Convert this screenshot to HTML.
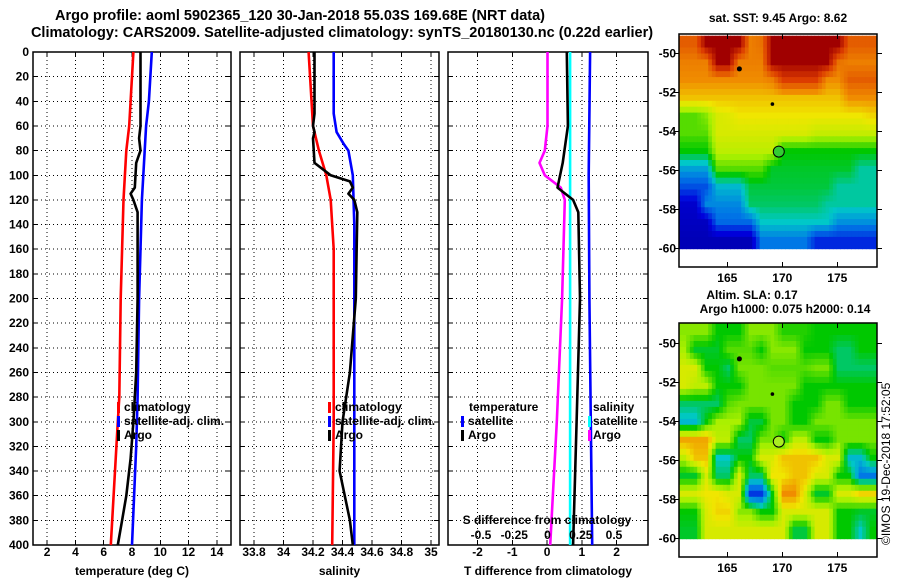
<!DOCTYPE html>
<html><head><meta charset="utf-8"><style>
body{margin:0;background:#fff}
svg{display:block;font-family:"Liberation Sans",sans-serif}
.t{font-weight:bold;font-size:12px}
.h{font-weight:bold;font-size:14.5px}
</style></head><body>
<svg id="s" width="900" height="580" viewBox="0 0 900 580">
<text class="h" x="300" y="20" text-anchor="middle">Argo profile: aoml 5902365_120 30-Jan-2018 55.03S 169.68E (NRT data)</text>
<text class="h" x="342" y="37" text-anchor="middle">Climatology: CARS2009. Satellite-adjusted climatology: synTS_20180130.nc (0.22d earlier)</text>
<text class="t" x="778" y="22" text-anchor="middle">sat. SST: 9.45 Argo: 8.62</text>
<text class="t" x="752" y="299" text-anchor="middle">Altim. SLA: 0.17</text>
<text class="t" x="785" y="313" text-anchor="middle">Argo h1000: 0.075 h2000: 0.14</text>
<text x="890" y="545" font-size="12" transform="rotate(-90 890 545)">©IMOS 19-Dec-2018 17:52:05</text>
</svg>
<script>
// ---- data ----
const depthTicks=[0,20,40,60,80,100,120,140,160,180,200,220,240,260,280,300,320,340,360,380,400];
const tempTicks=[2,4,6,8,10,12,14];
const salTicks=[33.8,34,34.2,34.4,34.6,34.8,35];
const salTickLabels=["33.8","34","34.2","34.4","34.6","34.8","35"];
const tdiffTicks=[-2,-1,0,1,2];
const sdiffTicks=[-0.5,-0.25,0,0.25,0.5];
const sdiffLabels=["-0.5","-0.25","0","0.25","0.5"];
const lonTicks=[165,170,175];
const latTicks=[-50,-52,-54,-56,-58,-60];

const tClimD=[0,20,40,60,80,100,120,160,200,280,300,400];
const tClimV=[8.1,8.0,7.9,7.8,7.6,7.5,7.4,7.3,7.2,7.1,7.0,6.5];
const tSatD=[0,40,60,80,100,120,200,280,320,400];
const tSatV=[9.4,9.2,9.0,8.9,8.8,8.7,8.5,8.4,8.3,8.0];
const tArgoD=[0,60,70,80,90,110,115,120,130,200,260,300,330,360,380,400];
const tArgoV=[8.6,8.6,8.5,8.6,8.3,8.2,7.9,8.1,8.4,8.4,8.3,8.1,7.9,7.6,7.3,7.0];

const sClimD=[0,60,80,100,120,160,300,400];
const sClimV=[34.17,34.2,34.24,34.29,34.32,34.34,34.34,34.33];
const sSatD=[0,50,65,75,80,100,140,200,300,400];
const sSatV=[34.34,34.34,34.36,34.41,34.44,34.47,34.48,34.48,34.48,34.48];
const sArgoD=[0,50,60,65,70,90,100,105,110,115,120,130,200,260,300,340,380,400];
const sArgoV=[34.21,34.21,34.2,34.21,34.2,34.21,34.32,34.45,34.47,34.44,34.48,34.5,34.49,34.45,34.4,34.38,34.45,34.47];

const dTSatD=[0,100,200,300,400];
const dTSatV=[1.24,1.2,1.22,1.26,1.3];
const dTArgoD=[0,60,90,110,120,130,200,300,400];
const dTArgoV=[0.57,0.6,0.45,0.3,0.75,0.9,0.95,0.85,0.75];
const dSSatD=[0,100,200,300,400];
const dSSatV=[0.17,0.17,0.17,0.17,0.17];
const dSArgoD=[0,60,80,90,100,110,120,200,300,400];
const dSArgoV=[0.0,0.0,-0.02,-0.06,-0.02,0.1,0.13,0.11,0.07,0.02];

const sstGrid=[
[0.85,0.85,1,1,1,1,0.8,0.82,1,1,1,1,1,1,1,0.85,0.85,0.85],
[0.8,0.8,0.8,1,1,0.8,0.8,0.8,1,1,1,1,1,1,0.82,0.8,0.8,0.8],
[0.78,0.78,0.78,0.78,0.78,0.78,0.78,0.78,0.8,0.9,0.9,0.9,0.9,0.78,0.78,0.85,0.85,0.85],
[0.72,0.72,0.72,0.72,0.72,0.72,0.72,0.72,0.72,0.72,0.72,0.72,0.72,0.72,0.72,0.78,0.78,0.78],
[0.55,0.55,0.58,0.65,0.66,0.68,0.68,0.68,0.68,0.68,0.68,0.68,0.68,0.68,0.68,0.68,0.68,0.7],
[0.55,0.55,0.55,0.65,0.65,0.65,0.65,0.65,0.65,0.65,0.65,0.65,0.63,0.63,0.63,0.63,0.63,0.63],
[0.5,0.5,0.5,0.62,0.62,0.62,0.62,0.62,0.62,0.5,0.5,0.5,0.5,0.5,0.5,0.5,0.5,0.5],
[0.35,0.35,0.35,0.55,0.55,0.55,0.55,0.55,0.48,0.48,0.48,0.48,0.48,0.48,0.48,0.48,0.42,0.42],
[0.25,0.25,0.25,0.38,0.38,0.38,0.47,0.47,0.47,0.47,0.47,0.47,0.47,0.47,0.42,0.42,0.42,0.42],
[0.12,0.12,0.32,0.32,0.32,0.32,0.45,0.45,0.45,0.45,0.45,0.45,0.45,0.42,0.42,0.42,0.42,0.42],
[0.1,0.1,0.1,0.28,0.28,0.28,0.28,0.4,0.4,0.4,0.4,0.4,0.4,0.4,0.33,0.33,0.33,0.33],
[0.08,0.08,0.08,0.08,0.08,0.08,0.08,0.3,0.3,0.3,0.3,0.3,0.2,0.2,0.2,0.2,0.2,0.2]];
const slaGrid=[
[0.58,0.58,0.58,0.5,0.5,0.5,0.58,0.58,0.58,0.52,0.52,0.52,0.5,0.5,0.5,0.5,0.5,0.5],
[0.6,0.48,0.48,0.48,0.55,0.55,0.55,0.5,0.58,0.58,0.58,0.5,0.5,0.5,0.45,0.45,0.5,0.5],
[0.65,0.65,0.5,0.5,0.45,0.57,0.57,0.57,0.55,0.55,0.55,0.55,0.57,0.57,0.45,0.45,0.45,0.45],
[0.65,0.62,0.62,0.5,0.5,0.5,0.57,0.57,0.57,0.57,0.57,0.5,0.5,0.5,0.5,0.5,0.5,0.5],
[0.45,0.45,0.45,0.45,0.55,0.57,0.57,0.57,0.57,0.57,0.5,0.5,0.5,0.57,0.57,0.5,0.5,0.5],
[0.38,0.38,0.5,0.6,0.6,0.6,0.47,0.47,0.57,0.57,0.5,0.5,0.57,0.57,0.57,0.57,0.57,0.57],
[0.75,0.75,0.75,0.62,0.62,0.45,0.45,0.57,0.57,0.5,0.62,0.62,0.5,0.5,0.57,0.57,0.57,0.57],
[0.62,0.72,0.72,0.4,0.4,0.5,0.5,0.65,0.65,0.72,0.72,0.72,0.72,0.65,0.65,0.38,0.38,0.5],
[0.48,0.48,0.65,0.45,0.45,0.65,0.45,0.45,0.68,0.68,0.72,0.72,0.65,0.65,0.5,0.5,0.3,0.3],
[0.65,0.65,0.68,0.68,0.65,0.65,0.22,0.22,0.5,0.78,0.78,0.65,0.48,0.48,0.65,0.65,0.7,0.7],
[0.5,0.5,0.65,0.7,0.7,0.58,0.58,0.5,0.5,0.65,0.65,0.65,0.65,0.65,0.5,0.5,0.48,0.48],
[0.48,0.48,0.65,0.65,0.65,0.65,0.65,0.65,0.65,0.65,0.47,0.47,0.65,0.65,0.5,0.5,0.4,0.5]];

// ---- scales ----
const NS='http://www.w3.org/2000/svg';
const svg=document.getElementById('s');
const Y0=52,Y1=545;
const yD=d=>Y0+d*1.2325;
const xT=v=>33+(v-1)*14.14;
const xS=v=>240+(v-33.705)*147.5;
const xDT=v=>448+(v+2.85)*34.75;
const xDS=v=>547.5+v*133;
function el(tag,attrs,parent){const e=document.createElementNS(NS,tag);for(const k in attrs)e.setAttribute(k,attrs[k]);(parent||svg).appendChild(e);return e;}
function txt(x,y,s,anchor,cls,name){const e=el('text',{x:x,y:y,'text-anchor':anchor||'middle','class':cls||'t'});e.textContent=s;


return e;}
function line(x1,y1,x2,y2,st,name){const e=el('line',{x1:x1,y1:y1,x2:x2,y2:y2,stroke:'#000','stroke-width':1,'shape-rendering':'crispEdges'});if(st)e.setAttribute('stroke-dasharray',st);


return e;}
function profile(D,V,xf,color,name){const pts=D.map((d,i)=>xf(V[i]).toFixed(1)+','+yD(d).toFixed(1)).join(' ');
const p=el('polyline',{points:pts,fill:'none',stroke:color,'stroke-width':2.6,'stroke-linejoin':'round'});

}

const panels=[{x0:33,x1:231,ticks:tempTicks,labels:tempTicks.map(String),xf:xT,title:'temperature (deg C)',n:'temperature'},
{x0:240,x1:439,ticks:salTicks,labels:salTickLabels,xf:xS,title:'salinity',n:'salinity'},
{x0:448,x1:648,ticks:tdiffTicks,labels:tdiffTicks.map(String),xf:xDT,title:'T difference from climatology',n:'difference'}];
panels.forEach((p,pi)=>{
  depthTicks.forEach(d=>{line(p.x0,yD(d),p.x1,yD(d),'1,3','grid-h');line(p.x0,yD(d),p.x0+5,yD(d),null,'y-tick');line(p.x1-5,yD(d),p.x1,yD(d),null,'y-tick');});
  p.ticks.forEach((t,i)=>{const x=p.xf(t);line(x,Y0,x,Y1,'1,3','grid-v');line(x,Y1-5,x,Y1,null,'x-tick');line(x,Y0,x,Y0+5,null,'x-tick');txt(x,556,p.labels[i],'middle','t',p.n+'-tick-label');});
  const r=el('rect',{x:p.x0,y:Y0,width:p.x1-p.x0,height:Y1-Y0,fill:'none',stroke:'#000','stroke-width':1.5});
  
  
  txt((p.x0+p.x1)/2,575,p.title,'middle','t',p.n+'-axis-title');
});
depthTicks.forEach(d=>txt(29,yD(d)+4,String(d),'end','t','depth-tick-label'));

profile(tClimD,tClimV,xT,'#f00','temp-climatology-line');
profile(tSatD,tSatV,xT,'#00f','temp-satellite-line');
profile(tArgoD,tArgoV,xT,'#000','temp-argo-line');
profile(sClimD,sClimV,xS,'#f00','sal-climatology-line');
profile(sSatD,sSatV,xS,'#00f','sal-satellite-line');
profile(sArgoD,sArgoV,xS,'#000','sal-argo-line');
profile(dSArgoD,dSArgoV,xDS,'#f0f','sdiff-argo-line');
profile(dSSatD,dSSatV,xDS,'#0ff','sdiff-satellite-line');
profile(dTArgoD,dTArgoV,xDT,'#000','tdiff-argo-line');
profile(dTSatD,dTSatV,xDT,'#00f','tdiff-satellite-line');

txt(547,524,'S difference from climatology','middle','t','sdiff-axis-title');
sdiffTicks.forEach((t,i)=>txt(xDS(t),539,sdiffLabels[i],'middle','t','sdiff-tick-label'));

function legendMark(x,y,c){const r=el('rect',{x:x,y:y-9,width:3,height:11,fill:c});

}
[[117,'climatology','#f00'],[117,'satellite-adj. clim.','#00f'],[117,'Argo','#000']].forEach((l,i)=>{legendMark(l[0],411+i*14,l[2]);txt(l[0]+7,411+i*14,l[1],'start','t','temp-legend-entry');});
[[328,'climatology','#f00'],[328,'satellite-adj. clim.','#00f'],[328,'Argo','#000']].forEach((l,i)=>{legendMark(l[0],411+i*14,l[2]);txt(l[0]+7,411+i*14,l[1],'start','t','sal-legend-entry');});
txt(469,411,'temperature','start','t','diff-legend-header');
legendMark(461,425,'#00f');txt(468,425,'satellite','start','t','diff-legend-entry');
legendMark(461,439,'#000');txt(468,439,'Argo','start','t','diff-legend-entry');
txt(593,411,'salinity','start','t','diff-legend-header');
legendMark(588,425,'#0ff');txt(593,425,'satellite','start','t','diff-legend-entry');
legendMark(588,439,'#f0f');txt(593,439,'Argo','start','t','diff-legend-entry');

// ---- maps ----
const stops=[[0,[0,0,140]],[0.15,[0,0,220]],[0.3,[0,120,230]],[0.4,[0,200,200]],[0.5,[0,200,0]],[0.6,[170,240,0]],[0.68,[240,230,0]],[0.78,[240,140,0]],[0.9,[220,60,0]],[1,[160,0,0]]];
function cmap(v){for(let i=1;i<stops.length;i++){if(v<=stops[i][0]){const a=stops[i-1],b=stops[i],f=(v-a[0])/(b[0]-a[0]);return 'rgb('+a[1].map((c,k)=>Math.round(c+(b[1][k]-c)*f)).join(',')+')';}}return 'rgb(160,0,0)';}
function sample(grid,r,c){const R=grid.length,C=grid[0].length;
  r=Math.max(0,Math.min(R-1,r));c=Math.max(0,Math.min(C-1,c));
  const r0=Math.floor(r),c0=Math.floor(c),r1=Math.min(R-1,r0+1),c1=Math.min(C-1,c0+1),fr=r-r0,fc=c-c0;
  return grid[r0][c0]*(1-fr)*(1-fc)+grid[r0][c1]*(1-fr)*fc+grid[r1][c0]*fr*(1-fc)+grid[r1][c1]*fr*fc;}
function drawMap(grid,bx0,bx1,by0,by1,yLat,latTop,name){
  const xL=lon=>727.3+(lon-165)*11;
  const lon0=160.6,rows=grid.length,cols=grid[0].length,SUB=3;
  const latStep=(latTop+60)/rows;
  const g=el('g',{});
  
  
  for(let r=0;r<rows*SUB;r++)for(let c=0;c<cols*SUB;c++){
    const v=sample(grid,(r+0.5)/SUB-0.5,(c+0.5)/SUB-0.5);
    const xa=xL(lon0+c/SUB),xb=xL(lon0+(c+1)/SUB),ya=yLat(latTop-r/SUB*latStep),yb=yLat(latTop-(r+1)/SUB*latStep);
    const rc=el('rect',{x:xa.toFixed(1),y:ya.toFixed(1),width:(Math.min(xb,bx1)-xa+0.5).toFixed(1),height:(yb-ya+0.5).toFixed(1),fill:cmap(v)},g);
    
    
  }
  const fr=el('rect',{x:bx0,y:by0,width:bx1-bx0,height:by1-by0,fill:'none',stroke:'#000','stroke-width':1.5});
  
  
  lonTicks.forEach(l=>{line(xL(l),by1-5,xL(l),by1,null,'lon-tick');line(xL(l),by0,xL(l),by0+5,null,'lon-tick');txt(xL(l),by1+15,String(l),'middle','t','lon-tick-label');});
  latTicks.forEach(l=>{line(bx0-5,yLat(l),bx0,yLat(l),null,'lat-tick');line(bx1,yLat(l),bx1+5,yLat(l),null,'lat-tick');txt(bx0-3,yLat(l)+4,String(l),'end','t','lat-tick-label');});
  const c=el('circle',{cx:xL(169.68),cy:yLat(-55.03),r:5.5,fill:name==='sst-map'?'#3c3':'#ae2',stroke:'#000','stroke-width':1});
  
  
  [[166.1,-50.8,2.5],[169.1,-52.6,1.8]].forEach(m=>{const e=el('circle',{cx:xL(m[0]),cy:yLat(m[1]),r:m[2],fill:'#000'});
  
  });
}
drawMap(sstGrid,679,877,34,267,lat=>53.3+(-50-lat)*19.54,-49.1,'sst-map');
drawMap(slaGrid,679,877,323,557,lat=>343.3+(-50-lat)*19.54,-48.96,'sla-map');
</script>
</body></html>
